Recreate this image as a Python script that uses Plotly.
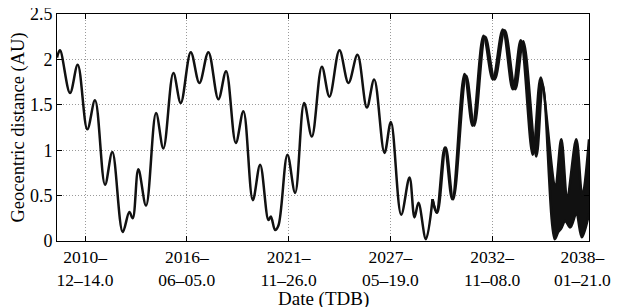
import plotly.graph_objects as go

# ---- data (decimal year, geocentric distance in AU) ----
nominal_t = [2009.444, 2009.605, 2010.144, 2010.558, 2011.075, 2011.489, 2012.027, 2012.420,
             2012.980, 2013.335, 2013.518, 2013.820, 2014.234, 2014.772, 2015.165, 2015.703,
             2016.101, 2016.640, 2017.103, 2017.587, 2018.125, 2018.540, 2019.062, 2019.471,
             2019.977, 2020.370, 2020.817, 2020.946, 2021.177, 2021.355, 2021.839, 2022.253,
             2022.738, 2023.152, 2023.690, 2024.099, 2024.637, 2025.122, 2025.606, 2026.112,
             2026.505, 2027.059, 2027.404, 2027.958, 2028.405, 2028.674, 2028.889, 2029.288,
             2029.643]
nominal_d = [2.02, 2.10, 1.63, 1.94, 1.23, 1.55, 0.62, 0.98,
             0.10, 0.32, 0.25, 0.79, 0.39, 1.41, 1.02, 1.85,
             1.52, 2.08, 1.74, 2.08, 1.56, 1.87, 1.08, 1.43,
             0.45, 0.84, 0.23, 0.27, 0.12, 0.17, 0.95, 0.53,
             1.52, 1.15, 1.92, 1.59, 2.10, 1.74, 2.05, 1.47,
             1.78, 0.97, 1.31, 0.29, 0.70, 0.26, 0.42, 0.02,
             0.46]

# early / upper edge of the clone spread
clone_a_t = [2029.643, 2029.858, 2030.300, 2030.703, 2031.365, 2031.796, 2032.388, 2032.883,
             2033.421, 2033.959, 2034.390, 2035.036, 2035.466, 2036.246, 2036.569, 2036.892,
             2037.376, 2037.699, 2038.060]
clone_a_d = [0.46, 0.31, 1.03, 0.46, 1.84, 1.27, 2.26, 1.78,
             2.33, 1.67, 2.21, 0.95, 1.80, 0.62, 1.12, 0.50,
             1.12, 0.50, 1.12]

# late / lower edge of the clone spread
clone_b_t = [2029.643, 2029.896, 2030.353, 2030.757, 2031.456, 2031.887, 2032.479, 2032.990,
             2033.529, 2034.094, 2034.524, 2035.223, 2035.573, 2036.219, 2036.407, 2036.569,
             2036.784, 2037.053, 2037.376, 2037.672, 2038.060]
clone_b_d = [0.46, 0.31, 1.03, 0.46, 1.82, 1.27, 2.25, 1.78,
             2.32, 1.67, 2.20, 0.93, 1.72, 0.02, 0.10, 0.14,
             0.22, 0.15, 0.30, 0.04, 0.30]

NBSP = "\u00a0"
tick_vals = [2010.951, 2016.426, 2021.901, 2027.378, 2032.852, 2038.055]
tick_text = ["2010–<br>12–14.0", "2016–<br>06–05.0", "2021–<br>11–26.0",
             "2027–<br>05–19.0", "2032–<br>11–08.0",
             "2038–" + NBSP * 3 + "<br>01–21.0" + NBSP * 3]
y_vals = [0, 0.5, 1, 1.5, 2, 2.5]
y_text = ["0", "0.5", "1", "1.5", "2", "2.5"]

FONT = "Liberation Serif"
LINE = "#111111"

fig = go.Figure()
fig.add_trace(go.Scatter(x=nominal_t, y=nominal_d, mode="lines",
                         line=dict(color=LINE, width=2.5, shape="spline", smoothing=1.0),
                         hoverinfo="skip", showlegend=False))
fig.add_trace(go.Scatter(x=clone_a_t, y=clone_a_d, mode="lines",
                         line=dict(color=LINE, width=2.5, shape="spline", smoothing=1.0),
                         hoverinfo="skip", showlegend=False))
fig.add_trace(go.Scatter(x=clone_b_t, y=clone_b_d, mode="lines", fill="tonexty",
                         fillcolor=LINE,
                         line=dict(color=LINE, width=2.5, shape="spline", smoothing=1.0),
                         hoverinfo="skip", showlegend=False))

axis_common = dict(showline=True, linecolor="black", linewidth=1, mirror="ticks",
                   ticks="inside", ticklen=5, tickcolor="black", tickwidth=1,
                   showgrid=True, gridcolor="#9a9a9a", gridwidth=1, griddash="1px,2px",
                   zeroline=False, automargin=False, ticklabeloverflow="allow")

# the page body keeps its default 8px margin, so margins are offset to put the
# plot area at the same place in the window as in the reference
fig.update_layout(
    width=612, height=299,
    margin=dict(l=49, r=31, t=6, b=66),
    paper_bgcolor="white", plot_bgcolor="white",
    xaxis=dict(range=[2009.444, 2038.06], tickmode="array", tickvals=tick_vals,
               ticktext=tick_text, tickfont=dict(family=FONT, size=17.5, color="black"),
               **axis_common),
    yaxis=dict(range=[0, 2.5], tickmode="array", tickvals=y_vals, ticktext=y_text,
               tickfont=dict(family=FONT, size=18, color="black"), **axis_common),
    annotations=[
        dict(text="Date (TDB)", xref="paper", yref="paper", x=0.5, y=-0.257,
             xanchor="center", yanchor="middle", showarrow=False,
             font=dict(family=FONT, size=19, color="black")),
        dict(text="Geocentric distance (AU)", xref="paper", yref="paper", x=-0.0733, y=0.5,
             xanchor="center", yanchor="middle", textangle=-90, showarrow=False,
             font=dict(family=FONT, size=18.5, color="black")),
    ],
)

fig.write_html("out.html")
